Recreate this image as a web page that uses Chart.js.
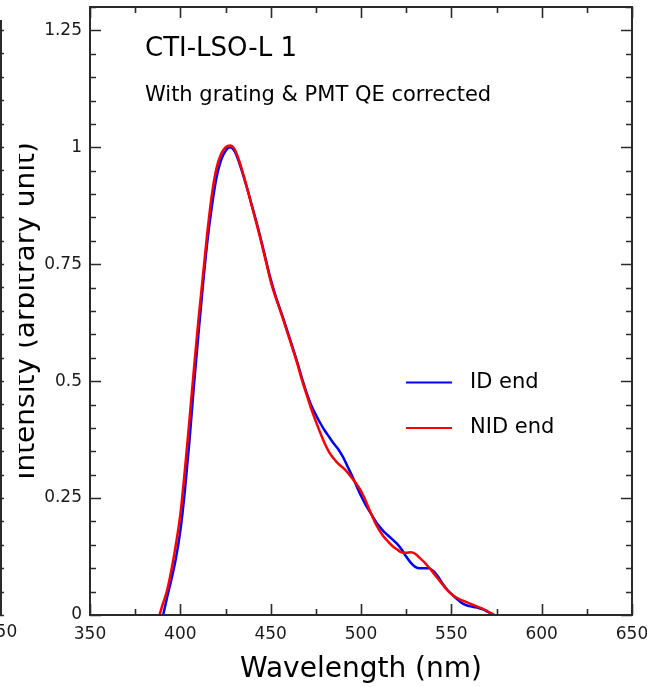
<!DOCTYPE html>
<html><head><meta charset="utf-8">
<script src="https://cdn.jsdelivr.net/npm/chart.js@4.4.1/dist/chart.umd.min.js"></script>
<style>html,body{margin:0;padding:0;background:#fff;}canvas{display:block}</style>
</head><body>
<canvas id="c" width="647" height="687"></canvas>
<script>
// ---- data ----
const idWavelength = [390.5,392.5,395,397.5,400,402.5,405,407.5,410,412.5,415,417.5,420,422.5,425,427.5,430,432.5,435,437.5,440,442.5,445,447.5,450,452.5,455,457.5,460,462.5,465,467.5,470,472.5,475,477.5,480,482.5,485,487.5,490,492.5,495,497.5,500,502.5,505,507.5,510,512.5,515,517.5,520,522.5,525,527.5,530,532.5,535,537.5,540,542.5,545,547.5,550,552.5,555,557.5,560,562.5,565,567.5,570,572.5,573.5];
const idIntensity = [0,0.035,0.075,0.12,0.18,0.265,0.37,0.49,0.6,0.705,0.8,0.875,0.935,0.972,0.992,1.0,0.992,0.968,0.938,0.905,0.87,0.835,0.797,0.757,0.718,0.685,0.656,0.628,0.598,0.568,0.537,0.504,0.474,0.448,0.428,0.41,0.394,0.38,0.366,0.354,0.338,0.318,0.298,0.276,0.255,0.236,0.22,0.204,0.19,0.179,0.17,0.161,0.152,0.14,0.125,0.112,0.103,0.1,0.1,0.1,0.094,0.083,0.068,0.055,0.045,0.036,0.028,0.022,0.019,0.017,0.015,0.012,0.007,0.002,0];
const nidWavelength = [388.5,390,392.5,395,397.5,400,402.5,405,407.5,410,412.5,415,417.5,420,422.5,425,427.5,430,432.5,435,437.5,440,442.5,445,447.5,450,452.5,455,457.5,460,462.5,465,467.5,470,472.5,475,477.5,480,482.5,485,487.5,490,492.5,495,497.5,500,502.5,505,507.5,510,512.5,515,517.5,520,522.5,525,527.5,530,532.5,535,537.5,540,542.5,545,547.5,550,552.5,555,557.5,560,562.5,565,567.5,570,572.5,574];
const nidIntensity = [0,0.02,0.05,0.095,0.15,0.215,0.31,0.415,0.525,0.63,0.725,0.82,0.9,0.955,0.985,1.0,1.004,0.996,0.972,0.94,0.905,0.868,0.832,0.794,0.754,0.714,0.682,0.654,0.625,0.595,0.565,0.534,0.5,0.47,0.44,0.414,0.389,0.366,0.347,0.334,0.323,0.315,0.305,0.293,0.28,0.265,0.245,0.222,0.2,0.182,0.168,0.157,0.147,0.14,0.134,0.133,0.134,0.131,0.122,0.113,0.102,0.09,0.078,0.066,0.054,0.045,0.038,0.033,0.029,0.025,0.021,0.017,0.013,0.008,0.003,0];
const seriesNames = ['ID end', 'NID end'];
const xTickLabels = ['350','400','450','500','550','600','650'];
const yTickLabels = ['0','0.25','0.5','0.75','1','1.25'];
const chartTitle = 'CTI-LSO-L 1';
const chartSubtitle = 'With grating & PMT QE corrected';
const xTitle = 'Wavelength (nm)';
const yTitle = 'Intensity (arbitrary unit)';
const neighbourLabel = '650';

const FONT = "'DejaVu Sans', 'Liberation Sans', sans-serif";
const INK = '#1a1a1a';

function fmt(v){ return String(Number(v.toFixed(2))); }

const decor = {
  id: 'decor',
  afterDraw(chart) {
    const ctx = chart.ctx, a = chart.chartArea;
    const xs = chart.scales.x, ys = chart.scales.y;
    ctx.save();
    // frame
    ctx.strokeStyle = '#2a2a2a';
    ctx.lineWidth = 2;
    ctx.strokeRect(a.left, a.top, a.right - a.left, a.bottom - a.top);
    // inward ticks
    ctx.lineWidth = 1.6;
    ctx.beginPath();
    xs.ticks.forEach(t => {
      const px = Math.round(xs.getPixelForValue(t.value)) + 0.5;
      const major = xTickLabels.includes(fmt(t.value));
      const len = major ? 11 : 6;
      ctx.moveTo(px, a.bottom); ctx.lineTo(px, a.bottom - len);
      ctx.moveTo(px, a.top); ctx.lineTo(px, a.top + len);
    });
    ys.ticks.forEach(t => {
      const py = Math.round(ys.getPixelForValue(t.value)) + 0.5;
      const major = yTickLabels.includes(fmt(t.value));
      const len = major ? 11 : 6;
      ctx.moveTo(a.left, py); ctx.lineTo(a.left + len, py);
      ctx.moveTo(a.right, py); ctx.lineTo(a.right - len, py);
    });
    ctx.stroke();

    // annotations
    ctx.fillStyle = '#000';
    ctx.textAlign = 'left';
    ctx.textBaseline = 'alphabetic';
    ctx.font = `26px ${FONT}`;
    ctx.fillText(chartTitle, 145, 56);
    ctx.font = `21px ${FONT}`;
    ctx.fillText(chartSubtitle, 145, 101);

    // legend
    const ds = chart.data.datasets;
    const legY = [382.5, 428];
    ctx.font = `21px ${FONT}`;
    seriesNames.forEach((name, i) => {
      const d = ds.find(s => s.label === name);
      ctx.strokeStyle = d.borderColor;
      ctx.lineWidth = 2.2;
      ctx.beginPath();
      ctx.moveTo(406, legY[i]); ctx.lineTo(452, legY[i]);
      ctx.stroke();
      ctx.fillStyle = '#000';
      ctx.fillText(name, 470, legY[i] + 5);
    });

    // crop of the y title (panel edge) + neighbour panel remnants
    ctx.fillStyle = '#fff';
    ctx.fillRect(0, 0, 19, chart.height);
    ctx.strokeStyle = '#2a2a2a';
    ctx.lineWidth = 2;
    ctx.beginPath();
    ctx.moveTo(1, 20); ctx.lineTo(1, a.bottom);
    ctx.stroke();
    ctx.lineWidth = 1.5;
    ctx.beginPath();
    for (let y = a.bottom; y > 20; y -= 23.4) { ctx.moveTo(0, Math.round(y) + 0.5); ctx.lineTo(4, Math.round(y) + 0.5); }
    ctx.stroke();
    ctx.fillStyle = INK;
    ctx.font = `17px ${FONT}`;
    ctx.textAlign = 'center';
    ctx.textBaseline = 'top';
    ctx.fillText(neighbourLabel, 1, a.bottom + 9);
    ctx.restore();
  }
};

function zeroPad(s) { s.paddingTop = 0; s.paddingBottom = 0; s.paddingLeft = 0; s.paddingRight = 0; }

new Chart(document.getElementById('c'), {
  type: 'line',
  data: {
    datasets: [
      { label: seriesNames[0], data: idWavelength.map((x, i) => ({x, y: idIntensity[i]})),
        borderColor: '#0000ff', borderWidth: 2.5, pointRadius: 0, tension: 0.4, cubicInterpolationMode: 'monotone', fill: false, order: 1 },
      { label: seriesNames[1], data: nidWavelength.map((x, i) => ({x, y: nidIntensity[i]})),
        borderColor: '#ff0000', borderWidth: 2.5, pointRadius: 0, tension: 0.4, cubicInterpolationMode: 'monotone', fill: false, order: 0 }
    ]
  },
  options: {
    responsive: false,
    animation: false,
    devicePixelRatio: 1,
    layout: { padding: { left: 0, right: 15, top: 7, bottom: 0 } },
    plugins: { legend: { display: false }, tooltip: { enabled: false } },
    scales: {
      x: {
        type: 'linear', position: 'bottom', min: 350, max: 650,
        grid: { display: false, drawTicks: false }, border: { display: false },
        ticks: { stepSize: 25, autoSkip: false, maxRotation: 0, padding: 9, color: INK,
          font: { family: FONT, size: 17 },
          callback: v => xTickLabels.includes(fmt(v)) ? fmt(v) : '' },
        title: { display: true, text: xTitle, color: '#000', font: { family: FONT, size: 28, lineHeight: 1.2 }, padding: { top: 0, bottom: 0 } },
        afterFit: s => { s.height = 72; zeroPad(s); }
      },
      y: {
        type: 'linear', position: 'left', min: 0, max: 1.3,
        grid: { display: false, drawTicks: false }, border: { display: false },
        ticks: { stepSize: 0.05, autoSkip: false, padding: 8, color: INK,
          font: { family: FONT, size: 17 },
          callback: v => yTickLabels.includes(fmt(v)) ? fmt(v) : '' },
        title: { display: true, text: yTitle, color: '#000', font: { family: FONT, size: 28, lineHeight: 1.2 }, padding: { top: 10, bottom: 0 } },
        afterFit: s => { s.width = 90; zeroPad(s); }
      }
    }
  },
  plugins: [decor]
});
</script>
</body></html>
